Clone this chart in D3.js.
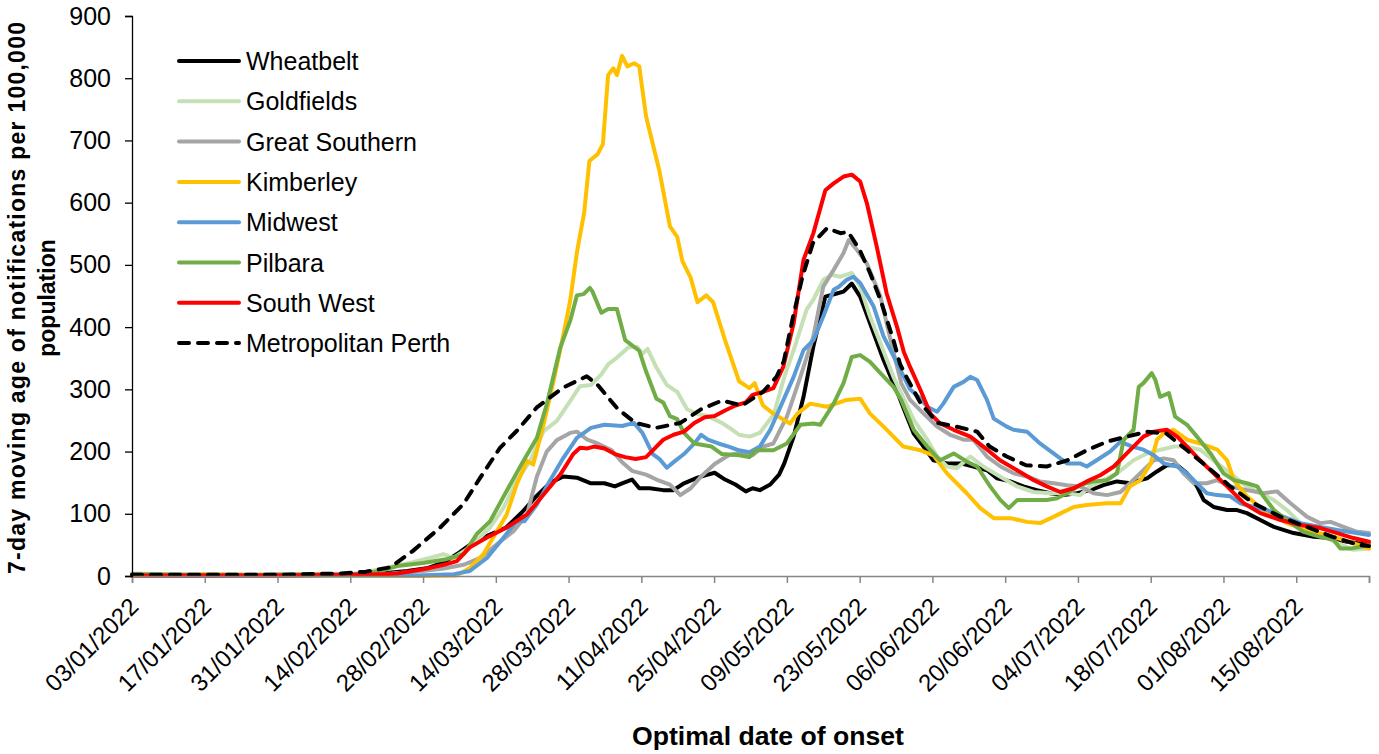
<!DOCTYPE html>
<html>
<head>
<meta charset="utf-8">
<script src="https://cdn.jsdelivr.net/npm/d3@7"></script>
<style>
  html, body { margin: 0; padding: 0; background: #fff; }
  svg { display: block; font-family: "Liberation Sans", Arial, sans-serif; }
</style>
</head>
<body>
<svg id="chart" width="1379" height="754"></svg>
<script>
// Each series: [days since 03/01/2022, 7-day moving rate per 100,000]
const wheatbelt = [[0,1],[14,1],[28,2],[42,2],[48,4],[53,8],[57,13],[60,22],[63,38],[66,56],[69,67],[72,78],[75,102],[78,130],[80.5,150],[83,160],[85.6,158],[88.3,149],[90.9,149],[92.9,144],[94.3,149],[96.2,155],[97.6,141],[99.6,141],[102.2,138],[104.2,138],[106.2,149],[108.8,158],[110.8,163],[112.1,166],[114.1,155],[116.1,147],[118.1,136],[119.4,141],[120.8,138],[122.8,147],[124.5,163],[125.5,181],[127.3,224],[129.2,288],[131.1,369],[133.4,449],[135.6,454],[136.9,457],[138.5,470],[140.1,449],[142,406],[144.6,347],[147.5,290],[149.1,256],[150.4,229],[152.3,208],[154.2,186],[156.8,181],[159.4,181],[161.9,176],[164.5,170],[166.4,157],[169,152],[171.5,144],[174.1,138],[176.7,133],[179.2,130],[181.8,133],[184.4,138],[186.9,146],[189.5,152],[192.1,149],[194,154],[195.3,157],[197.2,168],[199.1,178],[201.1,178],[203,165],[204.9,144],[206.2,122],[208.1,111],[210.7,106],[212.6,106],[214.5,101],[217.1,90],[219.7,79],[223.5,69],[227.4,63],[230.6,61],[233.8,55],[238,50]];

const goldfields = [[0,4],[7,3],[14,2],[28,2],[42,3],[46,8],[50,15],[54,22],[57.3,29],[59.9,35],[61.8,29],[65,46],[68.9,78],[71.5,110],[74,153],[76.6,185],[79.2,233],[81.7,249],[84.3,281],[86.2,305],[88.3,307],[90.3,324],[91.6,340],[93.3,351],[95.6,368],[97.2,368],[98.2,357],[99.2,365],[100.9,335],[102.9,307],[104.9,296],[106.8,268],[108.8,260],[110.8,257],[113.5,246],[115.5,235],[116.8,227],[118.8,224],[120.8,230],[123.5,260],[125.5,320],[127.3,363],[129.8,428],[131.1,444],[133,476],[134.7,484],[136.3,481],[138.5,487],[140.1,465],[142,417],[144,374],[146.5,320],[148.5,285],[150.4,251],[153,219],[154.9,192],[156.8,176],[158.7,173],[161.3,192],[163.8,176],[167,160],[170.3,144],[173.5,135],[176.7,133],[179.9,133],[182.4,130],[184.4,144],[186.9,154],[189.5,165],[192.7,186],[195.3,197],[197.9,203],[200.4,208],[203,208],[205.5,203],[208.8,181],[211.3,165],[214.5,144],[217.1,133],[219.7,122],[222.2,106],[224.8,85],[228.6,66],[231.9,53],[235,42],[238,44]];

const greatSouthern = [[0,1],[14,1],[28,1],[42,2],[50,4],[56,8],[60,12],[63.8,18],[67,29],[70.2,51],[73.4,72],[76,99],[77.9,160],[79.8,200],[81.7,218],[84.3,230],[85.6,232],[87.6,219],[89.6,213],[92.3,202],[94.3,183],[96.2,169],[98.9,163],[100.9,155],[103.5,147],[105.5,130],[107.5,141],[109.5,160],[112.1,180],[114.8,194],[117.4,199],[119.4,194],[121.4,208],[123.4,213],[126,256],[128.6,320],[131.1,385],[133,465],[135,492],[136.9,519],[137.9,540],[139.5,524],[141.4,502],[144,449],[146.5,360],[148,310],[149.7,283],[152.3,261],[154.9,240],[157.4,227],[160,219],[161.9,219],[164.5,192],[167.1,176],[169.6,165],[172.2,160],[174.7,152],[177.3,149],[179.9,146],[182.4,144],[185,133],[187.6,130],[190.2,135],[192,149],[194.6,170],[196.6,186],[198.5,189],[200.4,186],[202.3,165],[204.3,149],[206.8,149],[208.8,154],[211.3,144],[214.5,138],[217.7,133],[220.3,136],[222.9,117],[226.1,95],[228.6,85],[230.6,87],[233.1,79],[235.7,71],[238,69]];

const kimberley = [[0,0],[10,1],[14,3],[20,2],[28,0],[42,0],[55,0],[62.5,1],[65,13],[67.6,35],[70.2,72],[72.1,99],[74,147],[76,185],[77.2,179],[79.2,244],[81.1,313],[83,388],[84.3,442],[85.6,520],[87,584],[88,667],[89.6,678],[90.6,694],[91.6,805],[92.6,816],[93.3,805],[94.3,836],[95.3,819],[96.6,824],[97.6,819],[98.9,739],[101.5,650],[103.5,562],[104.9,545],[105.9,506],[107.5,479],[108.8,440],[110.5,451],[111.8,440],[114.1,379],[116.8,313],[118.8,302],[119.8,310],[121.4,274],[123.4,261],[126.6,245],[128,261],[130.5,277],[133.7,272],[137.5,283],[140.1,285],[142,261],[144.6,240],[146.5,224],[148.4,208],[151.7,202],[154.2,194],[156.8,165],[160.6,133],[163.2,109],[165.8,93],[169,93],[172.2,87],[174.7,85],[177.3,95],[181.2,111],[183.7,114],[187.6,117],[190.2,117],[192,144],[194,154],[196,181],[197.2,219],[198.5,229],[200.4,235],[203,219],[205.5,213],[208.8,203],[210.7,186],[212,154],[214.5,128],[217.7,106],[222.2,85],[226,74],[231.2,63],[235,53],[238,44]];

const midwest = [[0,1],[14,1],[28,1],[42,1],[55,1],[62,3],[65,8],[68.3,29],[71.5,62],[74,88],[75.5,88],[77.9,115],[80.4,153],[83,190],[85.6,222],[88.3,238],[90.9,243],[94.3,241],[96.6,246],[98.2,230],[100.2,196],[101.5,188],[102.9,174],[104.2,183],[106.2,196],[108.2,213],[109.5,227],[110.8,219],[112.8,213],[114.8,208],[116.8,202],[118.8,199],[120.8,208],[122.8,235],[124.5,267],[127.3,320],[129.2,363],[131.1,379],[133,417],[135,460],[136,465],[137.5,476],[138.8,481],[140.1,471],[142.7,433],[144.6,385],[147.2,342],[149.7,300],[151.7,285],[153,272],[154.9,264],[156.1,277],[158.1,304],[160,312],[161.3,320],[162.6,315],[164.5,283],[165.8,253],[168.3,240],[169.6,235],[172.2,232],[174.7,213],[177.3,197],[179.9,181],[182.4,181],[183.7,176],[185.6,186],[188.2,200],[190.2,216],[192.4,208],[194.6,203],[196.6,194],[198.5,181],[201.1,176],[203,165],[204.9,149],[206.8,133],[208.8,130],[211.3,128],[213.2,117],[215.8,111],[218.4,106],[221.6,95],[224.8,85],[228.6,79],[231.9,74],[235,70],[238,66]];

const pilbara = [[0,3],[14,2],[28,2],[42,3],[44.5,4],[47.7,8],[51,16],[56,21],[60.5,27],[63.8,35],[66.3,67],[68.9,88],[72.1,137],[75.3,185],[77.9,222],[79.8,276],[82.4,367],[84.3,410],[85.6,451],[86.9,453],[88.1,463],[88.6,457],[90.3,423],[91.6,429],[93.3,429],[94.9,379],[97.6,362],[98.9,329],[100.9,285],[102.2,279],[103.5,257],[104.9,252],[106.2,230],[108.2,213],[111.5,208],[113.5,196],[116.8,194],[118.8,191],[120.1,202],[123.4,202],[126,213],[128.6,243],[131.1,245],[132.4,243],[135,277],[136.9,310],[138.5,352],[140.1,355],[142,344],[144,326],[146.5,304],[148,283],[150.4,235],[153,208],[155.5,186],[158.1,197],[160.6,184],[162.6,176],[165.1,144],[167.1,122],[168.7,109],[170.3,122],[173.5,122],[176,122],[178,125],[179.9,133],[182.4,146],[185,152],[187.6,154],[189.5,165],[190.8,219],[192.7,235],[193.7,304],[194.6,310],[196.2,326],[196.9,315],[197.8,288],[199.5,294],[200.7,256],[203,243],[204.9,224],[207.5,197],[210,165],[212,154],[214.5,149],[216.5,144],[217.7,128],[219.7,106],[222.2,90],[225.4,71],[228.6,63],[231.2,58],[232.5,44],[234.4,44],[236.3,47],[238,50]];

const southWest = [[0,1],[14,1],[28,1],[42,2],[48,3],[51,4],[54,8],[57.3,13],[60,18],[62.5,24],[65,46],[68.3,62],[72.1,78],[76,99],[79.2,131],[82.4,163],[84.9,196],[86.2,206],[87.6,205],[88.9,208],[90.9,205],[92.9,196],[94.9,191],[96.9,188],[98.9,191],[100.2,202],[102.2,219],[104.2,227],[106.2,232],[108.2,246],[110.2,255],[112.1,257],[114.1,266],[116.1,274],[118.1,279],[119.4,291],[121.4,296],[123.4,302],[125.3,336],[127.3,406],[129.2,508],[131.1,551],[133.4,620],[135,631],[136.9,642],[138.5,645],[140.1,634],[141.4,599],[143.3,529],[145.2,454],[147.2,400],[148.5,360],[149.7,336],[151.7,299],[153.6,261],[155.5,245],[158.1,235],[161.3,224],[163.8,208],[167,186],[170.3,170],[173.5,154],[176,144],[178.6,135],[181.2,141],[183.7,152],[186.3,162],[188.9,176],[191.4,197],[192.7,208],[194.6,224],[196.6,232],[199.1,235],[201.1,224],[203,208],[205.5,186],[208.1,165],[210.7,144],[213.9,117],[217.1,101],[221,90],[224.8,82],[228.6,77],[231.9,69],[235,61],[238,55]];

const metroPerth = [[0,2],[14,2],[28,2],[40,4],[45,7],[49.7,14],[54,40],[59.3,78],[63.8,116],[67,158],[70.8,206],[74,233],[77.9,271],[83,303],[87.5,321],[89.6,307],[93.5,268],[96.9,246],[100.8,238],[105.5,246],[109.5,268],[113.5,282],[117.4,274],[121.4,296],[124,320],[125.4,345],[127.2,417],[129,481],[131,535],[133.7,559],[136.3,551],[137.8,553],[140,524],[142,487],[144,444],[146.5,379],[147.8,340],[149,320],[151.7,278],[155,246],[158.7,240],[162.6,232],[165,208],[168.3,192],[172,178],[176,176],[180,186],[183.7,202],[187.6,216],[191.4,224],[195.3,232],[199,229],[203,202],[206.8,176],[211.3,144],[215.8,117],[221,95],[226,79],[231,63],[236,50],[238,48]];

const seriesNames = ["Wheatbelt", "Goldfields", "Great Southern", "Kimberley", "Midwest", "Pilbara", "South West", "Metropolitan Perth"];
const seriesColors = ["#000000", "#c5e0b4", "#a5a5a5", "#ffc000", "#5b9bd5", "#70ad47", "#ff0000", "#000000"];
const seriesDashed = [false, false, false, false, false, false, false, true];
const seriesData = [wheatbelt, goldfields, greatSouthern, kimberley, midwest, pilbara, southWest, metroPerth];

const yTicks = [0, 100, 200, 300, 400, 500, 600, 700, 800, 900];
const xTickDays = [0, 14, 28, 42, 56, 70, 84, 98, 112, 126, 140, 154, 168, 182, 196, 210, 224];
const lastDay = 238;

const yTitle1 = "7-day moving age of notifications per 100,000";
const yTitle2 = "population";
const xTitle = "Optimal date of onset";

// ── scales ────────────────────────────────────────────────────────────────
const startMs = Date.UTC(2022, 0, 3);
const toDate = (d) => new Date(startMs + d * 864e5);

const plotLeft = 132, plotRight = 1369, plotTop = 16, plotBottom = 576;
const x = d3.scaleUtc().domain([toDate(0), toDate(lastDay)]).range([plotLeft, plotRight]);
const y = d3.scaleLinear().domain([0, 900]).range([plotBottom, plotTop]);
const fmt = d3.utcFormat("%d/%m/%Y");

const svg = d3.select("#chart");

// ── lines ─────────────────────────────────────────────────────────────────
const line = d3.line()
  .x((p) => x(toDate(p[0])))
  .y((p) => y(p[1]));

const lines = svg.append("g").attr("fill", "none")
  .attr("stroke-linejoin", "round").attr("stroke-linecap", "round");

seriesData.forEach((data, i) => {
  lines.append("path")
    .attr("d", line(data))
    .attr("stroke", seriesColors[i])
    .attr("stroke-width", 4)
    .attr("stroke-dasharray", seriesDashed[i] ? "10,9" : null);
});

// ── axes ──────────────────────────────────────────────────────────────────
const xAxis = d3.axisBottom(x)
  .tickValues(xTickDays.map(toDate).concat([toDate(lastDay)]))
  .tickSize(7)
  .tickFormat("");
const gx = svg.append("g").attr("transform", `translate(0,${plotBottom})`).call(xAxis);
gx.select(".domain").attr("stroke", "#868686").attr("stroke-width", 1.5);
gx.selectAll(".tick line").attr("stroke", "#868686").attr("stroke-width", 1.5);

svg.append("g").selectAll("text")
  .data(xTickDays)
  .join("text")
  .attr("transform", (d) => `translate(${x(toDate(d)) + 8},${plotBottom + 32}) rotate(-45)`)
  .attr("text-anchor", "end")
  .attr("font-size", 24)
  .attr("fill", "#000")
  .text((d) => fmt(toDate(d)));

const yAxis = d3.axisLeft(y).tickValues(yTicks).tickSize(7).tickPadding(14);
const gy = svg.append("g").attr("transform", `translate(${plotLeft},0)`).call(yAxis);
gy.select(".domain").attr("stroke", "#000").attr("stroke-width", 1.3);
gy.selectAll(".tick line").attr("stroke", "#000").attr("stroke-width", 1.3);
gy.selectAll(".tick text")
  .attr("font-family", "Liberation Sans, Arial, sans-serif")
  .attr("font-size", 25).attr("fill", "#000");

// ── titles ────────────────────────────────────────────────────────────────
const yt = svg.append("text")
  .attr("transform", "translate(25,298) rotate(-90)")
  .attr("text-anchor", "middle")
  .attr("font-weight", "bold")
  .attr("font-size", 23)
  .attr("fill", "#000");
yt.append("tspan").attr("x", 0).attr("y", 0)
  .attr("textLength", 552).attr("lengthAdjust", "spacing")
  .text(yTitle1);
yt.append("tspan").attr("x", 0).attr("y", 30).text(yTitle2);

svg.append("text")
  .attr("x", 768)
  .attr("y", 745)
  .attr("text-anchor", "middle")
  .attr("font-weight", "bold")
  .attr("font-size", 25)
  .attr("textLength", 272)
  .attr("lengthAdjust", "spacingAndGlyphs")
  .attr("fill", "#000")
  .text(xTitle);

// ── legend ────────────────────────────────────────────────────────────────
const legend = svg.append("g");
seriesNames.forEach((name, i) => {
  const ly = 61 + i * 40.3;
  legend.append("line")
    .attr("x1", 179).attr("x2", 239).attr("y1", ly).attr("y2", ly)
    .attr("stroke", seriesColors[i]).attr("stroke-width", 4)
    .attr("stroke-linecap", "round")
    .attr("stroke-dasharray", seriesDashed[i] ? "10,9" : null);
  legend.append("text")
    .attr("x", 246).attr("y", ly + 9)
    .attr("font-size", 25).attr("fill", "#000")
    .text(name);
});
</script>
</body>
</html>
